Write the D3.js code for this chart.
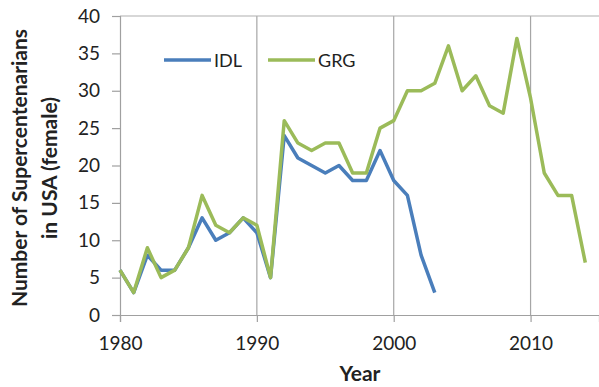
<!DOCTYPE html>
<html>
<head>
<meta charset="utf-8">
<script src="https://cdn.jsdelivr.net/npm/d3@7"></script>
<style>
  body { margin: 0; background: #fff; }
  text { font-family: Lato, "Open Sans", sans-serif; fill: #222; }
</style>
</head>
<body>
<div id="container"></div>
<script>
const WIDTH = 599;
const HEIGHT = 387;
const MARGIN = {top: 16, right: 0, bottom: 72, left: 120};
const INNER_WIDTH = WIDTH - MARGIN.left - MARGIN.right;
const INNER_HEIGHT = HEIGHT - MARGIN.top - MARGIN.bottom;

var idlYears = d3.range(1980, 2004);
var idlValues = [6, 3, 8, 6, 6, 9, 13, 10, 11, 13, 11, 5, 24, 21, 20, 19, 20, 18, 18, 22, 18, 16, 8, 3];
var grgYears = d3.range(1980, 2015);
var grgValues = [6, 3, 9, 5, 6, 9, 16, 12, 11, 13, 12, 5, 26, 23, 22, 23, 23, 19, 19, 25, 26, 30, 30, 31,
                 36, 30, 32, 28, 27, 37, 29, 19, 16, 16, 7];
var xTicks = [1980, 1990, 2000, 2010];
var yTicks = [0, 5, 10, 15, 20, 25, 30, 35, 40];

var series = [
    {name: "IDL", color: "#4a7ebb", values: idlYears.map(function (y, i) { return {x: y, y: idlValues[i]}; })},
    {name: "GRG", color: "#9bbb59", values: grgYears.map(function (y, i) { return {x: y, y: grgValues[i]}; })}
];

var XScale = d3.scaleLinear().domain([1980, 2015]).range([0, INNER_WIDTH]);
var YScale = d3.scaleLinear().domain([0, 40]).range([INNER_HEIGHT, 0]);

var LINE = d3.line()
    .x(function (d) { return XScale(d.x); })
    .y(function (d) { return YScale(d.y); });

var SVG = d3.select("#container").append("svg")
    .attr("width", WIDTH)
    .attr("height", HEIGHT);

var g = SVG.append("g").attr("transform", "translate(" + MARGIN.left + "," + MARGIN.top + ")");

// vertical gridlines at the decades
g.selectAll(".grid").data(xTicks.slice(1)).enter().append("line")
    .attr("x1", function (d) { return XScale(d); })
    .attr("x2", function (d) { return XScale(d); })
    .attr("y1", 0).attr("y2", INNER_HEIGHT)
    .attr("stroke", "#a6a6a6").attr("stroke-width", 1.2);

// top border
g.append("line").attr("x1", 0).attr("x2", INNER_WIDTH).attr("y1", 0).attr("y2", 0)
    .attr("stroke", "#b0b0b0").attr("stroke-width", 1.2);

var yAxis = g.append("g")
    .call(d3.axisLeft(YScale).tickValues(yTicks).tickSize(8).tickPadding(12));
var xAxis = g.append("g")
    .attr("transform", "translate(0," + INNER_HEIGHT + ")")
    .call(d3.axisBottom(XScale).tickValues(xTicks).tickFormat(d3.format("d")).tickSize(7).tickPadding(15));

[xAxis, yAxis].forEach(function (ax) {
    ax.select(".domain").attr("stroke", "#a0a0a0").attr("stroke-width", 1.2);
    ax.selectAll(".tick line").attr("stroke", "#a0a0a0").attr("stroke-width", 1.2);
    ax.selectAll(".tick text").attr("font-size", 19).attr("fill", "#2a2a2a")
        .attr("font-family", "Lato, 'Open Sans', sans-serif");
});

series.forEach(function (s) {
    g.append("path")
        .datum(s.values)
        .attr("fill", "none")
        .attr("stroke", s.color)
        .attr("stroke-width", 3.5)
        .attr("stroke-linejoin", "round")
        .attr("d", LINE);
});

// legend
var legend = SVG.append("g").attr("transform", "translate(164,60)");
var legendX = [0, 104];
series.forEach(function (s, i) {
    var lg = legend.append("g").attr("transform", "translate(" + legendX[i] + ",0)");
    lg.append("line").attr("x1", 0).attr("x2", 47).attr("y1", 0).attr("y2", 0)
        .attr("stroke", s.color).attr("stroke-width", 3.5);
    lg.append("text").attr("x", 50).attr("y", 6.5).attr("font-size", 18).text(s.name);
});

// axis titles
SVG.append("text")
    .attr("x", 360)
    .attr("y", 381)
    .attr("text-anchor", "middle")
    .attr("font-size", 21)
    .attr("font-weight", "bold")
    .attr("fill", "#111")
    .text("Year");

var yTitle = SVG.append("text")
    .attr("transform", "translate(0,168) rotate(-90)")
    .attr("text-anchor", "middle")
    .attr("font-size", 21)
    .attr("font-weight", "bold")
    .attr("fill", "#111");
yTitle.append("tspan").attr("x", 0).attr("y", 27).text("Number of Supercentenarians");
yTitle.append("tspan").attr("x", 0).attr("y", 57).text("in USA (female)");
</script>
</body>
</html>
